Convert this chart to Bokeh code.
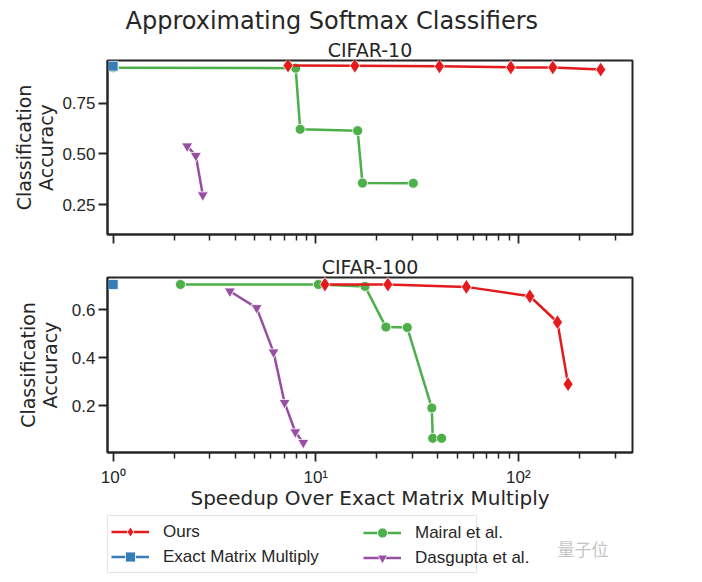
from bokeh.plotting import figure
from bokeh.models import (Range1d, FixedTicker, Title, Legend, LegendItem, Label,
                          NumeralTickFormatter, CustomJSTickFormatter)
from bokeh.layouts import column
from bokeh.embed import file_html
from bokeh.resources import INLINE

# ---------------- data ----------------
c10_ours_x = [7.3, 15.6, 40.8, 91.8, 148, 255]
c10_ours_y = [0.937, 0.936, 0.933, 0.928, 0.928, 0.917]
c10_exact_x = [1.0]
c10_exact_y = [0.934]
c10_mairal_x = [1.0, 7.96, 8.38, 16.1, 17.0, 30.3]
c10_mairal_y = [0.926, 0.924, 0.622, 0.615, 0.356, 0.355]
c10_dasgupta_x = [2.32, 2.56, 2.77]
c10_dasgupta_y = [0.539, 0.492, 0.297]

c100_ours_x = [11.1, 22.7, 55.4, 114, 156, 176]
c100_ours_y = [0.704, 0.704, 0.694, 0.655, 0.547, 0.290]
c100_exact_x = [1.0]
c100_exact_y = [0.704]
c100_mairal_x = [2.15, 10.3, 17.5, 22.2, 28.3, 37.4, 37.8, 41.8]
c100_mairal_y = [0.704, 0.704, 0.696, 0.527, 0.525, 0.191, 0.065, 0.065]
c100_dasgupta_x = [3.77, 5.11, 6.19, 7.02, 7.93, 8.68]
c100_dasgupta_y = [0.676, 0.607, 0.423, 0.213, 0.091, 0.047]

series_labels = ["Ours", "Exact Matrix Multiply", "Mairal et al.", "Dasgupta et al."]
x_major = [1, 10, 100]
x_major_labels = {1: "10\u2070", 10: "10\u00b9", 100: "10\u00b2"}
x_minor = [2, 3, 4, 5, 6, 7, 8, 9, 20, 30, 40, 50, 60, 70, 80, 90, 200, 300]
c10_yticks = [0.25, 0.5, 0.75]
c100_yticks = [0.2, 0.4, 0.6]

RED, BLUE, GREEN, PURPLE = "#e41a1c", "#377eb8", "#4daf4a", "#984ea3"
INK = "#262626"
LW = 2.5
W = 702
BL, BR = 107, 70

x_range = Range1d(0.938, 366)


def make_fig(height, yr, yticks, yfmt, min_top, min_bottom):
    p = figure(width=W, height=height, x_axis_type="log", x_range=x_range,
               y_range=Range1d(*yr), output_backend="svg", toolbar_location=None,
               min_border_left=BL, min_border_right=BR, min_border_top=min_top,
               min_border_bottom=min_bottom)
    p.grid.visible = False
    p.outline_line_color = INK
    p.outline_line_width = 2
    p.background_fill_color = "white"
    p.border_fill_color = "white"
    for ax in (p.xaxis[0], p.yaxis[0]):
        ax.axis_line_color = INK
        ax.axis_line_width = 2
        ax.major_tick_line_color = INK
        ax.major_tick_line_width = 1.8
        ax.minor_tick_line_color = INK
        ax.minor_tick_line_width = 1.5
        ax.major_tick_in = 0
        ax.major_tick_out = 9
        ax.minor_tick_in = 0
        ax.minor_tick_out = 6
        ax.major_label_text_font = "Liberation Sans"
        ax.major_label_text_font_size = "17px"
        ax.major_label_text_color = INK
        ax.axis_label_text_font = "DejaVu Sans"
        ax.axis_label_text_font_size = "19px"
        ax.axis_label_text_font_style = "normal"
        ax.axis_label_text_color = INK
    p.xaxis.ticker = FixedTicker(ticks=x_major, minor_ticks=x_minor)
    p.xaxis.major_label_overrides = x_major_labels
    p.yaxis.ticker = FixedTicker(ticks=yticks)
    p.yaxis.formatter = NumeralTickFormatter(format=yfmt)
    p.yaxis.major_label_standoff = 3
    p.yaxis.axis_label = "Classification\nAccuracy"
    p.yaxis.axis_label_standoff = 2
    p.yaxis.axis_label_text_line_height = 1.0
    return p


def subtitle(text):
    return Title(text=text, align="center", text_font="DejaVu Sans", text_font_size="19px",
                 text_font_style="normal", text_color=INK, standoff=0)


def draw(p, ox, oy, ex, ey, mx, my, dx, dy):
    r = {}
    r["m_l"] = p.line(mx, my, line_color=GREEN, line_width=LW)
    r["m_s"] = p.scatter(mx, my, marker="circle", size=10, fill_color=GREEN,
                         line_color="white", line_width=0.8)
    r["d_l"] = p.line(dx, dy, line_color=PURPLE, line_width=LW)
    r["d_s"] = p.scatter(dx, dy, marker="inverted_triangle", size=11, fill_color=PURPLE,
                         line_color="white", line_width=0.8)
    r["e_l"] = p.line(ex, ey, line_color=BLUE, line_width=LW)
    r["e_s"] = p.scatter(ex, ey, marker="square", size=10, fill_color=BLUE,
                         line_color="white", line_width=0.8)
    r["o_l"] = p.line(ox, oy, line_color=RED, line_width=LW)
    r["o_s"] = p.scatter(ox, oy, marker="diamond", size=15, fill_color=RED,
                         line_color="white", line_width=0.8)
    return r


# ---------------- top panel ----------------
p1 = make_fig(253, (0.102, 0.962), c10_yticks, "0.00", 60, 19)
p1.xaxis.formatter = CustomJSTickFormatter(code="return ''")
p1.xaxis.major_label_overrides = {}
p1.xaxis.major_label_standoff = 0
p1.title.text = "Approximating Softmax Classifiers"
p1.title.align = "left"
p1.title.offset = 18
p1.title.text_font = "DejaVu Sans"
p1.title.text_font_size = "24px"
p1.title.text_font_style = "normal"
p1.title.text_color = INK
p1.title.standoff = 4
p1.add_layout(subtitle("CIFAR-10"), "above")
draw(p1, c10_ours_x, c10_ours_y, c10_exact_x, c10_exact_y,
     c10_mairal_x, c10_mairal_y, c10_dasgupta_x, c10_dasgupta_y)

# ---------------- bottom panel ----------------
p2 = make_fig(262, (0.006, 0.733), c100_yticks, "0.0", 24, 63)
p2.title = subtitle("CIFAR-100")
p2.yaxis.axis_label_standoff = 8
p2.xaxis.axis_label = "Speedup Over Exact Matrix Multiply"
p2.xaxis.axis_label_text_font_size = "20px"
p2.xaxis.major_label_standoff = 6
p2.xaxis.axis_label_standoff = -4
draw(p2, c100_ours_x, c100_ours_y, c100_exact_x, c100_exact_y,
     c100_mairal_x, c100_mairal_y, c100_dasgupta_x, c100_dasgupta_y)

# ---------------- legend strip (its renderers lie outside its view) ----------------
p3 = figure(width=W, height=66, x_range=Range1d(1000, 1525), y_range=Range1d(100, 166),
            output_backend="svg", toolbar_location=None, x_axis_location=None,
            y_axis_location=None, min_border_left=BL, min_border_right=BR,
            min_border_top=0, min_border_bottom=0)
p3.grid.visible = False
p3.outline_line_color = None
lr = draw(p3, c100_ours_x, c100_ours_y, c100_exact_x, c100_exact_y,
          c100_mairal_x, c100_mairal_y, c100_dasgupta_x, c100_dasgupta_y)


def legend_common(leg):
    leg.glyph_width = 38
    leg.glyph_height = 25
    leg.label_height = 20
    leg.label_standoff = 14
    leg.padding = 3
    leg.spacing = 0
    leg.margin = 0
    leg.label_text_font = "Liberation Sans"
    leg.label_text_font_size = "17px"
    leg.label_text_color = INK
    leg.label_text_baseline = "middle"


legA = Legend(items=[LegendItem(label=series_labels[0], renderers=[lr["o_l"], lr["o_s"]]),
                     LegendItem(label=series_labels[1], renderers=[lr["e_l"], lr["e_s"]])],
              location=(0, 8))
legend_common(legA)
legA.label_width = 310
legA.border_line_color = "#cccccc"
legA.border_line_width = 1
legA.background_fill_color = "white"
legA.background_fill_alpha = 1.0
p3.add_layout(legA)

legB = Legend(items=[LegendItem(label=series_labels[2], renderers=[lr["m_l"], lr["m_s"]]),
                     LegendItem(label=series_labels[3], renderers=[lr["d_l"], lr["d_s"]])],
              location=(253, 8))
legend_common(legB)
legB.label_width = 40
legB.border_line_alpha = 0
legB.background_fill_alpha = 0
p3.add_layout(legB)

p3.add_layout(Label(x=1450, y=133, text="量子位",
                    text_font="Noto Sans CJK SC", text_font_size="17px",
                    text_color="#c4c4c4", text_baseline="middle"))

layout = column(p1, p2, p3, spacing=0)
open("out.html", "w").write(file_html(layout, INLINE))
